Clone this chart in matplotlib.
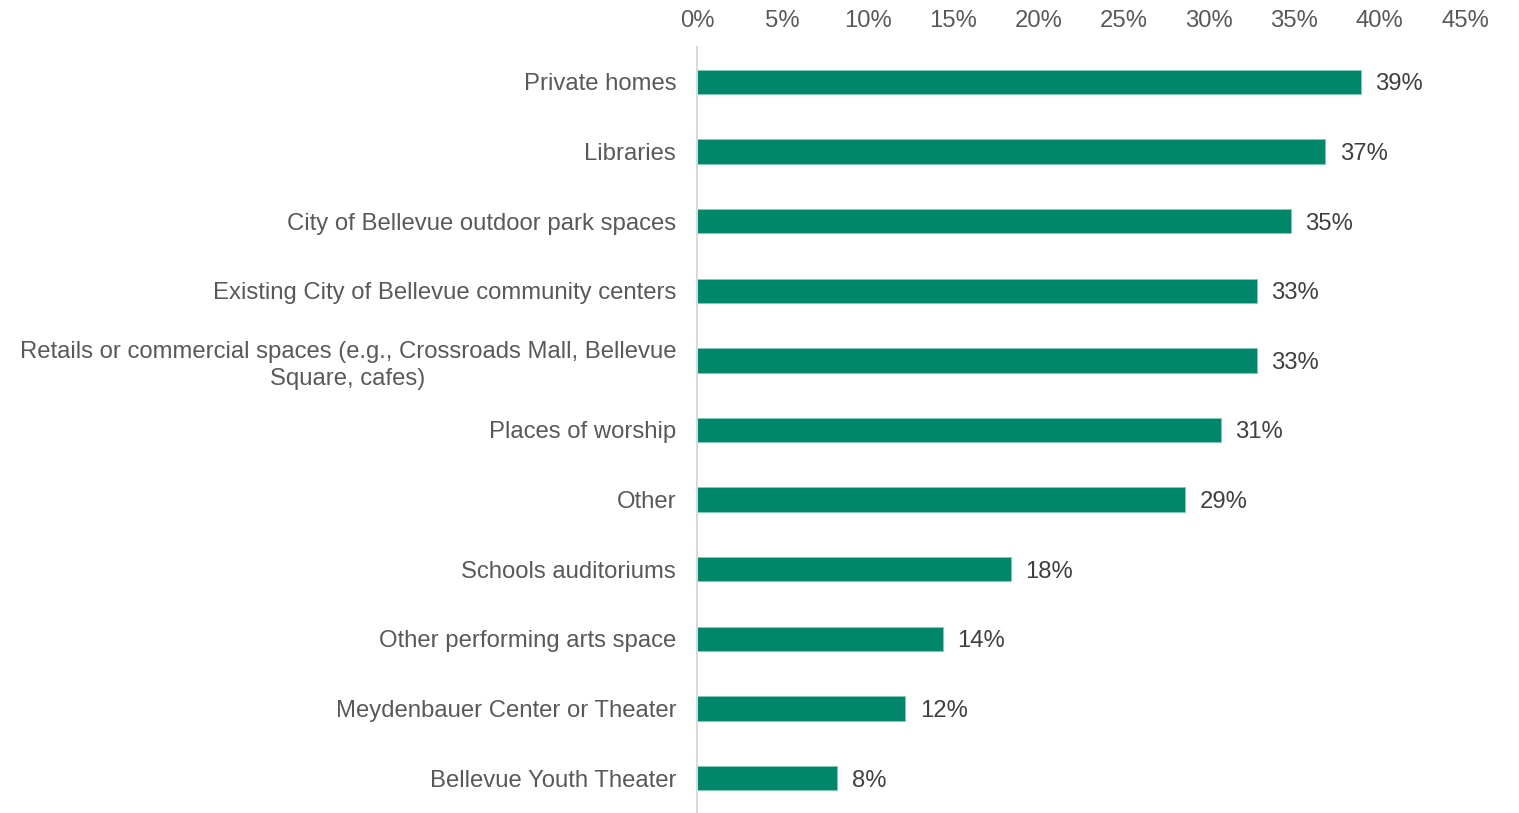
import matplotlib.pyplot as plt
from matplotlib.ticker import FuncFormatter, MultipleLocator

# Survey responses, top of the chart first
venues = [
    "Private homes",
    "Libraries",
    "City of Bellevue outdoor park spaces",
    "Existing City of Bellevue community centers",
    "Retails or commercial spaces (e.g., Crossroads Mall, Bellevue\nSquare, cafes)",
    "Places of worship",
    "Other",
    "Schools auditoriums",
    "Other performing arts space",
    "Meydenbauer Center or Theater",
    "Bellevue Youth Theater",
]
shares = [38.9, 36.8, 34.8, 32.8, 32.8, 30.7, 28.6, 18.4, 14.4, 12.2, 8.2]

BAR_COLOR = "#00876A"
TEXT_COLOR = "#595959"
FONT_SIZE = 17.2

plt.rcParams["font.family"] = ["Liberation Sans", "DejaVu Sans"]

fig = plt.figure(figsize=(15.19, 8.13), dpi=100)
ax = fig.add_axes([0.4589, 0.0, 0.9645 - 0.4589, 0.9422])

positions = list(range(len(venues)))
ax.barh(positions, shares, height=0.35, color=BAR_COLOR,
        edgecolor="#7FCDB8", linewidth=0.6)

for pos, val in zip(positions, shares):
    ax.text(val + 0.85, pos, f"{val:.0f}%", va="center_baseline", ha="left",
            fontsize=FONT_SIZE, color="#404040")

ax.set_ylim(len(venues) - 0.5, -0.5)
ax.set_xlim(0, 45)
ax.set_yticks(positions)
ax.set_yticklabels(venues, fontsize=FONT_SIZE, color=TEXT_COLOR)
for lbl in ax.get_yticklabels():
    lbl.set_multialignment("center")
    lbl.set_linespacing(1.32)

ax.xaxis.set_major_locator(MultipleLocator(5))
ax.xaxis.set_major_formatter(FuncFormatter(lambda v, _: f"{v:.0f}%"))
ax.xaxis.tick_top()
ax.tick_params(axis="x", length=0, pad=11, labelsize=FONT_SIZE,
               labelcolor=TEXT_COLOR)
ax.tick_params(axis="y", length=0, pad=15)

for side in ["top", "right", "bottom"]:
    ax.spines[side].set_visible(False)
ax.spines["left"].set_color("#D9D9D9")
ax.spines["left"].set_linewidth(1.5)

fig.savefig("out.png", dpi=100)
